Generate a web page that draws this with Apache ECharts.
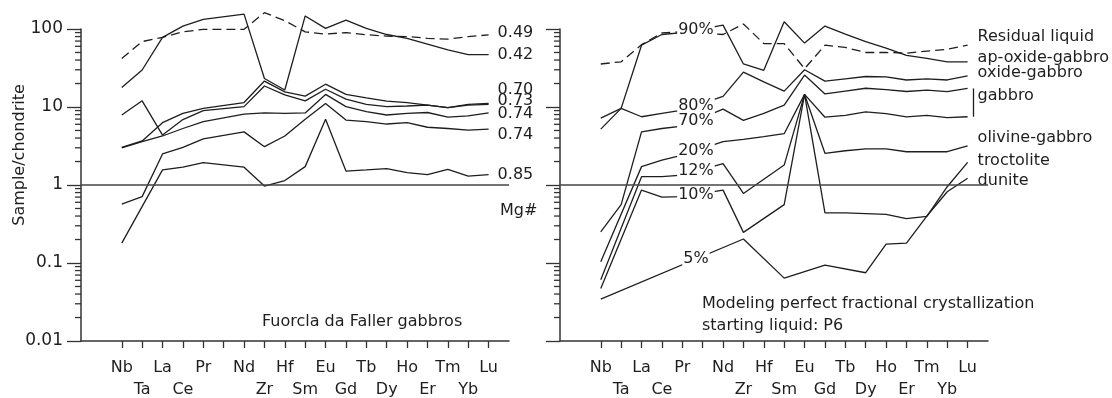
<!DOCTYPE html>
<html>
<head>
<meta charset="utf-8">
<script src="https://cdn.jsdelivr.net/npm/echarts@6/dist/echarts.min.js"></script>
<style>
  html, body { margin: 0; padding: 0; background: #ffffff; }
  #chart { width: 1112px; height: 398px; }
</style>
</head>
<body>
<div id="chart"></div>
<script>
// Element order on the x axis (empty slot between Pr and Nd is kept as a gap)
const elements = ['Nb', 'Ta', 'La', 'Ce', 'Pr', '', 'Nd', 'Zr', 'Hf', 'Sm', 'Eu',
                  'Gd', 'Tb', 'Dy', 'Ho', 'Er', 'Tm', 'Yb', 'Lu'];
// Elements whose names sit on the second label row
const lowerRow = ['Ta', 'Ce', 'Zr', 'Sm', 'Gd', 'Dy', 'Er', 'Yb'];
// Y tick labels (sample / chondrite, log scale)
const yTicks = [0.01, 0.1, 1, 10, 100];

// Fuorcla da Faller gabbros, one profile per sample, labelled by Mg#
const mg049 = [42, 69, 78, 92, 99, null, 99, 162, 128, 92, 86, 90, 84.5, 81, 80, 76, 74, 80, 84];
const mg042 = [17.8, 29.8, 78, 109, 133, null, 155, 23.2, 16.5, 147, 102, 130, 102, 85, 76, 64, 54, 47, 47];
const mg070 = [3.04, 3.67, 6.3, 8.3, 9.6, null, 11.4, 21.5, 15.6, 13.8, 19.6, 14.5, 13.1, 11.9, 11.4, 10.6, 9.8, 10.8, 11.1];
const mg073 = [7.9, 12.0, 4.37, 6.9, 8.96, null, 10.1, 18.6, 14.3, 12.0, 16.9, 12.6, 10.8, 10.1, 10.3, 10.6, 9.8, 10.6, 10.8];
const mg074a = [3.0, 3.6, 4.25, 5.3, 6.5, null, 8.1, 8.4, 8.3, 8.4, 14.5, 10.1, 8.7, 7.9, 8.3, 8.5, 7.4, 7.7, 8.4];
const mg074b = [0.57, 0.71, 2.5, 3.04, 3.9, null, 4.8, 3.1, 4.25, 6.95, 11.1, 6.8, 6.5, 6.05, 6.3, 5.5, 5.3, 5.06, 5.2];
const mg085 = [0.18, null, 1.56, 1.69, 1.93, null, 1.69, 0.97, 1.14, 1.72, 6.95, 1.51, 1.56, 1.62, 1.44, 1.36, 1.59, 1.30, 1.36];

// Perfect fractional crystallization model, starting liquid P6
const residual = [35.6, 38, 63, 89, 92, null, 85, 116, 65, 65, 31, 62, 58, 50, 50, 49, 52, 55, 62];
const frac90 = [5.2, 9.6, 62, 85, 90, null, 112, 35.6, 29.5, 124, 66, 109, 86, 69, 57, 46, 42, 38, 38];
const frac80 = [7.2, 9.6, 7.5, 8.3, 9.1, null, 13.7, 28, 21, 16, 30, 21.5, 23, 24.6, 24.3, 22.2, 23, 22.2, 25];
const frac70 = [0.25, 0.56, 4.8, 5.3, 5.7, null, 9.4, 6.75, 8.3, 10.6, 25.7, 14.7, 16, 17.4, 16.7, 15.8, 16.5, 15.7, 17.3];
const frac20 = [0.104, null, 1.72, 2.09, 2.42, null, 3.6, 3.85, 4.16, 4.55, 14.5, 7.4, 7.8, 8.65, 8.2, 7.45, 7.8, 7.3, 7.5];
const frac12 = [0.061, null, 1.28, 1.28, 1.34, null, 1.88, 0.78, null, 1.8, 14.5, 2.55, 2.75, 2.9, 2.9, 2.67, 2.67, 2.67, 3.17];
const frac10 = [0.047, null, 0.86, 0.70, 0.71, null, 0.86, 0.247, null, 0.56, 14.5, 0.44, 0.44, 0.43, 0.42, 0.37, 0.395, 0.95, 1.95];
const frac5 = [0.0345, null, null, null, null, null, null, 0.203, null, 0.064, null, 0.094, null, 0.075, 0.175, 0.18, 0.40, 0.82, 1.22];

const INK = '#1e1e1e';
const AXIS = '#333333';
const FONT = '"DejaVu Sans", "Liberation Sans", sans-serif';

const tickIdx = elements.map((e, i) => i);
const labelIdx = elements.map((e, i) => i).filter(i => elements[i] !== '');
// minor tick values 2..9 within each decade
const minorTicks = [];
for (let d = -2; d < 2; d++) {
  for (let k = 2; k <= 9; k++) minorTicks.push(Number((k * Math.pow(10, d)).toPrecision(3)));
}

function pairs(values) {
  return values.map((v, i) => [i, v]);
}

// log-linear position along a profile at a fractional element index
function valueAt(values, x) {
  let i0 = Math.floor(x), i1 = Math.ceil(x);
  while (i0 > 0 && values[i0] == null) i0--;
  while (i1 < values.length - 1 && values[i1] == null) i1++;
  if (i0 === i1) return values[i0];
  const t = (x - i0) / (i1 - i0);
  return Math.pow(10, Math.log10(values[i0]) + t * (Math.log10(values[i1]) - Math.log10(values[i0])));
}

function profile(values, grid, label, labelDy, dashed, distance) {
  const s = {
    type: 'line',
    xAxisIndex: grid,
    yAxisIndex: grid,
    data: pairs(values),
    connectNulls: true,
    showSymbol: false,
    symbol: 'none',
    clip: false,
    silent: true,
    z: 3,
    lineStyle: { color: INK, width: 1.3, type: dashed ? [9, 5] : 'solid' }
  };
  if (label) {
    s.endLabel = {
      show: true,
      formatter: label,
      distance: distance,
      offset: [0, labelDy],
      color: INK,
      fontSize: 16,
      fontFamily: FONT
    };
  }
  return s;
}

// short outward ticks on the log axis at the minor values
function minorTickSeries(grid) {
  return {
    type: 'custom',
    coordinateSystem: 'cartesian2d',
    xAxisIndex: grid,
    yAxisIndex: grid,
    silent: true,
    clip: false,
    z: 10,
    data: minorTicks.map(v => [-2, v]),
    renderItem: (params, api) => {
      const p = api.coord([api.value(0), api.value(1)]);
      return {
        type: 'line',
        shape: { x1: p[0] - 6, y1: p[1], x2: p[0], y2: p[1] },
        style: { stroke: AXIS, lineWidth: 1.3 }
      };
    }
  };
}

function unityLine() {
  return {
    silent: true,
    symbol: ['none', 'none'],
    label: { show: false },
    lineStyle: { color: '#444', width: 1.6, type: 'solid' },
    data: [{ yAxis: 1 }]
  };
}

function xAxisFor(grid) {
  return {
    type: 'value',
    gridIndex: grid,
    min: -2,
    max: 19,
    axisLine: { show: true, onZero: false, lineStyle: { color: AXIS, width: 1.5 } },
    axisTick: { show: true, inside: false, length: 7, customValues: tickIdx,
                lineStyle: { color: AXIS, width: 1.3 } },
    axisLabel: {
      customValues: labelIdx,
      margin: 16,
      fontSize: 16,
      lineHeight: 22,
      color: INK,
      fontFamily: FONT,
      formatter: v => {
        const name = elements[Math.round(v)];
        return lowerRow.indexOf(name) >= 0 ? '\n' + name : name;
      }
    },
    splitLine: { show: false }
  };
}

function yAxisFor(grid, showLabels) {
  return {
    type: 'log',
    logBase: 10,
    gridIndex: grid,
    min: 0.01,
    max: 100,
    position: 'left',
    axisLine: { show: true, onZero: false, lineStyle: { color: AXIS, width: 1.5 } },
    axisTick: { show: true, inside: false, length: 14, lineStyle: { color: AXIS, width: 1.3 } },
    axisLabel: {
      show: showLabels,
      margin: 18,
      fontSize: 17,
      color: INK,
      fontFamily: FONT,
      formatter: v => {
        const t = yTicks.find(y => Math.abs(Math.log10(y) - Math.log10(v)) < 1e-6);
        return t === undefined ? '' : String(t);
      }
    },
    splitLine: { show: false },
    minorTick: { show: false }
  };
}

// in-line crystallization percentages, placed on each curve between Pr and Nd
const fracTagSlot = 4.67;
const fracTags = [
  ['90%', frac90], ['80%', frac80], ['70%', frac70], ['20%', frac20],
  ['12%', frac12], ['10%', frac10], ['5%', frac5]
];

const leftSeries = [
  profile(mg049, 0, '0.49', -2, true, 9),
  profile(mg042, 0, '0.42', 0, false, 9),
  profile(mg070, 0, '0.70', -14, false, 9),
  profile(mg073, 0, '0.73', -4, false, 9),
  profile(mg074a, 0, '0.74', 1, false, 9),
  profile(mg074b, 0, '0.74', 6, false, 9),
  profile(mg085, 0, '0.85', 0, false, 9)
];
leftSeries[6].markLine = unityLine();

const rightSeries = [
  profile(residual, 1, 'Residual liquid', -8, true, 10),
  profile(frac90, 1, 'ap-oxide-gabbro', -4, false, 10),
  profile(frac80, 1, 'oxide-gabbro', -3, false, 10),
  profile(frac70, 1, 'gabbro', 7, false, 10),
  profile(frac20, 1, null, 0, false, 10),
  profile(frac12, 1, 'olivine-gabbro', -8, false, 10),
  profile(frac10, 1, 'troctolite', -2, false, 10),
  profile(frac5, 1, 'dunite', 3, false, 10)
];
rightSeries[7].markLine = unityLine();
// bracket joining the two gabbro curves
rightSeries[4].markLine = {
  silent: true,
  symbol: ['none', 'none'],
  label: { show: false },
  lineStyle: { color: INK, width: 1.3, type: 'solid' },
  data: [[{ coord: [18.3, frac70[18]] }, { coord: [18.3, frac20[18]] }]]
};

const tagSeries = {
  type: 'scatter',
  xAxisIndex: 1,
  yAxisIndex: 1,
  silent: true,
  z: 6,
  symbol: 'circle',
  symbolSize: 1,
  itemStyle: { color: '#ffffff', opacity: 1 },
  data: fracTags.map(([text, vals]) => ({ name: text, value: [fracTagSlot, valueAt(vals, fracTagSlot)] })),
  label: {
    show: true,
    position: 'inside',
    formatter: p => p.name,
    color: '#1e1e1e',
    opacity: 1,
    fontSize: 16,
    fontFamily: FONT,
    backgroundColor: '#ffffff',
    padding: [0, 1, 0, 1]
  },
  labelLayout: { hideOverlap: false }
};

const chart = echarts.init(document.getElementById('chart'), null, { renderer: 'canvas' });
chart.setOption({
  animation: false,
  backgroundColor: '#ffffff',
  textStyle: { fontFamily: FONT },
  grid: [
    { left: 81, top: 29, width: 428, height: 312, containLabel: false, outerBoundsMode: 'none' },
    { left: 560, top: 29, width: 428, height: 312, containLabel: false, outerBoundsMode: 'none' }
  ],
  xAxis: [xAxisFor(0), xAxisFor(1)],
  yAxis: [yAxisFor(0, true), yAxisFor(1, false)],
  series: leftSeries.concat(rightSeries, [tagSeries, minorTickSeries(0), minorTickSeries(1)]),
  graphic: [
    { type: 'text', x: 20, y: 155, rotation: Math.PI / 2,
      style: { text: 'Sample/chondrite', fill: INK, font: '16px ' + FONT, align: 'center', verticalAlign: 'middle' } },
    { type: 'text', x: 500, y: 211,
      style: { text: 'Mg#', fill: INK, font: '16px ' + FONT, align: 'left', verticalAlign: 'middle' } },
    { type: 'text', x: 262, y: 322,
      style: { text: 'Fuorcla da Faller gabbros', fill: INK, font: '16px ' + FONT, align: 'left', verticalAlign: 'middle' } },
    { type: 'text', x: 702, y: 304,
      style: { text: 'Modeling perfect fractional crystallization', fill: INK, font: '16px ' + FONT, align: 'left', verticalAlign: 'middle' } },
    { type: 'text', x: 702, y: 326,
      style: { text: 'starting liquid: P6', fill: INK, font: '16px ' + FONT, align: 'left', verticalAlign: 'middle' } }
  ]
});
</script>
</body>
</html>
